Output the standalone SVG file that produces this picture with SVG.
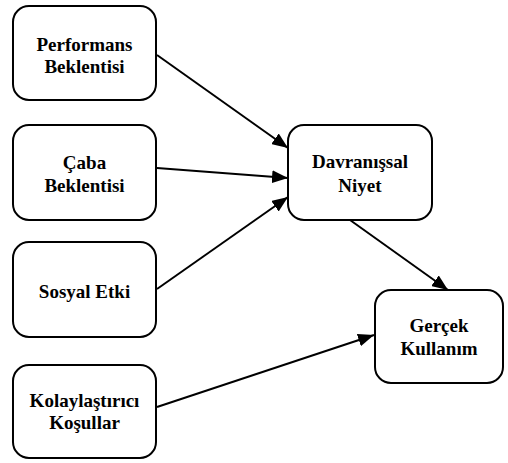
<svg xmlns="http://www.w3.org/2000/svg" width="508" height="463" viewBox="0 0 508 463">
<defs>
<style>
.box{fill:#fff;stroke:#000;stroke-width:2}
.con{stroke:#000;stroke-width:2;fill:none;marker-end:url(#ah)}
</style>
<marker id="ah" markerUnits="userSpaceOnUse" markerWidth="16" markerHeight="13" refX="16" refY="6.5" orient="auto">
<path d="M0,0 L16,6.5 L0,13 Z" fill="#000"/>
</marker>
</defs>
<rect width="508" height="463" fill="#fff"/>
<g id="connectors">
<line class="con" x1="157" y1="55" x2="288" y2="148"/>
<line class="con" x1="157" y1="168" x2="288" y2="178"/>
<line class="con" x1="157" y1="289" x2="288" y2="197"/>
<line class="con" x1="157" y1="407" x2="374" y2="335"/>
<line class="con" x1="350" y1="220" x2="448" y2="290"/>
</g>
<g id="performans">
<rect class="box" x="13" y="6" width="143" height="94" rx="16"/>
<text font-family="Liberation Serif" font-weight="bold" font-size="19" text-anchor="middle" x="84.5" y="50.5">Performans</text>
<text font-family="Liberation Serif" font-weight="bold" font-size="19" text-anchor="middle" x="84.5" y="73">Beklentisi</text>
</g>
<g id="caba">
<rect class="box" x="13" y="125" width="143" height="95" rx="16"/>
<text font-family="Liberation Serif" font-weight="bold" font-size="19" text-anchor="middle" x="84.5" y="168.5">Çaba</text>
<text font-family="Liberation Serif" font-weight="bold" font-size="19" text-anchor="middle" x="84.5" y="191.5">Beklentisi</text>
</g>
<g id="sosyal">
<rect class="box" x="13" y="242" width="143" height="95" rx="16"/>
<text font-family="Liberation Serif" font-weight="bold" font-size="19" text-anchor="middle" x="84.5" y="298">Sosyal Etki</text>
</g>
<g id="kolay">
<rect class="box" x="13" y="365" width="143" height="93" rx="16"/>
<text font-family="Liberation Serif" font-weight="bold" font-size="19" text-anchor="middle" x="84.5" y="406.5">Kolaylaştırıcı</text>
<text font-family="Liberation Serif" font-weight="bold" font-size="19" text-anchor="middle" x="84.5" y="429">Koşullar</text>
</g>
<g id="davranissal">
<rect class="box" x="288" y="125" width="144" height="95" rx="16"/>
<text font-family="Liberation Serif" font-weight="bold" font-size="19" text-anchor="middle" x="360" y="168">Davranışsal</text>
<text font-family="Liberation Serif" font-weight="bold" font-size="19" text-anchor="middle" x="360" y="192">Niyet</text>
</g>
<g id="gercek">
<rect class="box" x="375" y="290" width="128" height="93" rx="16"/>
<text font-family="Liberation Serif" font-weight="bold" font-size="19" text-anchor="middle" x="439" y="332">Gerçek</text>
<text font-family="Liberation Serif" font-weight="bold" font-size="19" text-anchor="middle" x="439" y="355">Kullanım</text>
</g>
</svg>
